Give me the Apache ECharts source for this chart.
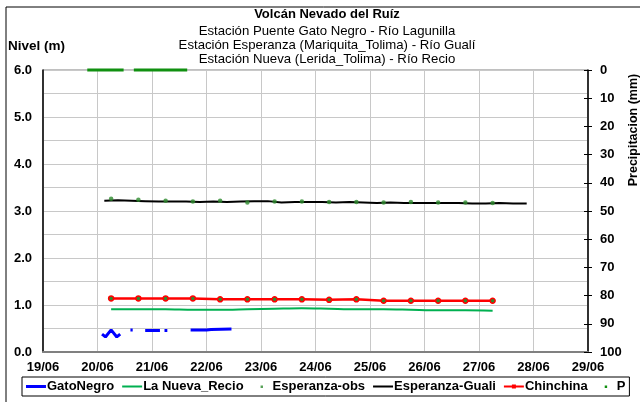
<!DOCTYPE html>
<html>
<head>
<meta charset="utf-8">
<script src="https://cdn.jsdelivr.net/npm/echarts@6/dist/echarts.min.js"></script>
<style>html,body{margin:0;padding:0;background:#fff}#c{width:640px;height:402px}</style>
</head>
<body>
<div id="c"></div>
<script>
// ---- data ----
const titleMain = 'Volcán Nevado del Ruíz';
const titleSubs = ['Estación Puente Gato Negro - Río Lagunilla', 'Estación Esperanza (Mariquita_Tolima) - Río Gualí', 'Estación Nueva (Lerida_Tolima) - Río Recio'];
const xTickLabels = ['19/06','20/06','21/06','22/06','23/06','24/06','25/06','26/06','27/06','28/06','29/06'];
const leftTicks = [0, 1, 2, 3, 4, 5, 6];
const rightTicks = [0, 10, 20, 30, 40, 50, 60, 70, 80, 90, 100];

const gatoTimes = ['20/06 02:00','20/06 03:30','20/06 06:00','20/06 08:30','20/06 10:00','20/06 11:00','20/06 14:30','20/06 15:30','20/06 17:00','20/06 21:00','21/06 00:00','21/06 03:30','21/06 04:30','21/06 05:30','21/06 06:45','21/06 08:00','21/06 17:00','22/06 00:00','22/06 02:00','22/06 11:00'];
const gatoValues = [0.38, 0.32, 0.47, 0.32, 0.38, null, 0.47, 0.47, null, 0.46, 0.46, 0.46, null, 0.46, 0.46, null, 0.47, 0.47, 0.48, 0.49];

const obsTimes = ['20/06 06:00','20/06 18:00','21/06 06:00','21/06 18:00','22/06 06:00','22/06 18:00','23/06 06:00','23/06 18:00','24/06 06:00','24/06 18:00','25/06 06:00','25/06 18:00','26/06 06:00','26/06 18:00','27/06 06:00'];
const recioValues = [0.91, 0.91, 0.91, 0.90, 0.90, 0.91, 0.92, 0.93, 0.92, 0.91, 0.91, 0.90, 0.89, 0.89, 0.88];
const esperanzaObs = [3.26, 3.24, 3.22, 3.20, 3.22, 3.18, 3.20, 3.20, 3.19, 3.19, 3.18, 3.19, 3.18, 3.18, 3.17];
const chinchinaValues = [1.14, 1.14, 1.14, 1.14, 1.12, 1.12, 1.12, 1.12, 1.11, 1.12, 1.09, 1.09, 1.09, 1.09, 1.09];

const gualiTimes = ['20/06 03:00','20/06 09:00','20/06 15:00','20/06 21:00','21/06 03:00','21/06 09:00','21/06 15:00','21/06 21:00','22/06 03:00','22/06 09:00','22/06 15:00','22/06 21:00','23/06 03:00','23/06 09:00','23/06 15:00','23/06 21:00','24/06 03:00','24/06 09:00','24/06 15:00','24/06 21:00','25/06 03:00','25/06 09:00','25/06 15:00','25/06 21:00','26/06 03:00','26/06 09:00','26/06 15:00','26/06 21:00','27/06 03:00','27/06 09:00','27/06 15:00','27/06 21:00'];
const gualiValues = [3.22, 3.23, 3.22, 3.21, 3.20, 3.20, 3.20, 3.19, 3.20, 3.19, 3.20, 3.21, 3.21, 3.18, 3.19, 3.19, 3.19, 3.18, 3.19, 3.18, 3.17, 3.18, 3.17, 3.17, 3.17, 3.17, 3.17, 3.16, 3.16, 3.17, 3.16, 3.16];

const precipTimes = ['19/06 19:30','20/06 03:00','20/06 11:30','20/06 14:00','20/06 16:00','21/06 03:00','21/06 15:30'];
const precipValues = [0, 0, 0, null, 0, 0, 0];

// ---- helpers ----
function toDay(s) {
  const [d, t] = s.split(' ');
  const day = parseInt(d.split('/')[0], 10);
  const [hh, mm] = t.split(':').map(Number);
  return day + hh / 24 + mm / 1440;
}
function pairs(times, vals) { return times.map((t, i) => [toDay(t), vals[i]]); }

const font = 'Arial, "Liberation Sans", sans-serif';
const dotIcon = 'path://M0,0h0.01v0.01h-0.01z M9,3h2.4v2.4h-2.4z M20,8h0.01v0.01h-0.01z';
const lineIcon = 'path://M0,0h0.01v0.01h-0.01z M0,3h20v2h-20z M20,8h0.01v0.01h-0.01z';
const thickLineIcon = 'path://M0,0h0.01v0.01h-0.01z M0,2.5h20v3h-20z M20,8h0.01v0.01h-0.01z';
const lineDotIcon = 'path://M0,0h0.01v0.01h-0.01z M0,3h20v2h-20z M8,2h4v4h-4z M20,8h0.01v0.01h-0.01z';

const chart = echarts.init(document.getElementById('c'), null, {renderer: 'canvas'});
chart.setOption({
  animation: false,
  backgroundColor: '#ffffff',
  textStyle: {fontFamily: font},
  grid: {left: 43, top: 70, right: 52, bottom: 50, show: true, borderColor: '#808080', borderWidth: 1},
  graphic: [
    {type: 'rect', silent: true, z: -10, shape: {x: 6, y: 7, width: 700, height: 500}, style: {fill: 'none', stroke: '#000', lineWidth: 1}},
    {type: 'text', x: 327, y: 14, style: {text: titleMain, font: 'bold 13px ' + font, fill: '#000', textAlign: 'center', textVerticalAlign: 'middle'}},
    {type: 'text', x: 327, y: 31, style: {text: titleSubs[0], font: '13.2px ' + font, fill: '#000', textAlign: 'center', textVerticalAlign: 'middle'}},
    {type: 'text', x: 327, y: 45, style: {text: titleSubs[1], font: '13.2px ' + font, fill: '#000', textAlign: 'center', textVerticalAlign: 'middle'}},
    {type: 'text', x: 327, y: 59, style: {text: titleSubs[2], font: '13.2px ' + font, fill: '#000', textAlign: 'center', textVerticalAlign: 'middle'}},
    {type: 'text', x: 8, y: 46, style: {text: 'Nivel (m)', font: 'bold 13.5px ' + font, fill: '#000', textAlign: 'left', textVerticalAlign: 'middle'}},
    {type: 'text', x: 634, y: 130, rotation: Math.PI / 2, style: {text: 'Precipitacion (mm)', font: 'bold 12.5px ' + font, fill: '#000', textAlign: 'center', textVerticalAlign: 'middle'}}
  ],
  legend: {
    left: 22, top: 377, width: 800,
    orient: 'horizontal',
    borderColor: '#000', borderWidth: 1, padding: [3, 4],
    itemGap: 8, itemWidth: 20, itemHeight: 8,
    textStyle: {fontFamily: font, fontWeight: 'bold', fontSize: 13, color: '#000', padding: [0, 0, 0, -4]},
    data: [
      {name: 'GatoNegro', icon: thickLineIcon},
      {name: 'La Nueva_Recio', icon: lineIcon},
      {name: 'Esperanza-obs', icon: dotIcon},
      {name: 'Esperanza-Guali', icon: lineIcon},
      {name: 'Chinchina', icon: lineDotIcon, itemStyle: {color: '#ff0000', borderWidth: 0}},
      {name: 'P', icon: dotIcon}
    ]
  },
  xAxis: {
    type: 'value', min: 19, max: 29, interval: 1,
    axisLine: {lineStyle: {color: '#808080', width: 2}},
    axisTick: {show: false},
    axisLabel: {margin: 9, fontFamily: font, fontWeight: 'bold', fontSize: 13, color: '#000',
      formatter: v => xTickLabels[Math.round(v) - 19] || ''},
    splitLine: {show: true, lineStyle: {color: '#c8c8c8', width: 1}}
  },
  yAxis: [
    {
      type: 'value', min: 0, max: 6, interval: 0.5, position: 'left',
      axisLine: {show: true, lineStyle: {color: '#000', width: 1.5}},
      axisTick: {show: false},
      axisLabel: {margin: 11, fontFamily: font, fontWeight: 'bold', fontSize: 13, color: '#000',
        formatter: v => leftTicks.indexOf(v) >= 0 ? v.toFixed(1) : ''},
      splitLine: {show: true, lineStyle: {color: '#c8c8c8', width: 1}}
    },
    {
      type: 'value', min: 0, max: 100, interval: 10, inverse: true, position: 'right',
      axisLine: {show: true, lineStyle: {color: '#000', width: 1.5}},
      axisTick: {show: true, length: 4, lineStyle: {color: '#000', width: 1}},
      axisLabel: {margin: 12, fontFamily: font, fontWeight: 'bold', fontSize: 13, color: '#000',
        formatter: v => rightTicks.indexOf(v) >= 0 ? String(v) : ''},
      splitLine: {show: false}
    },
    {
      type: 'value', min: 0, max: 100, interval: 10, inverse: true, position: 'right',
      axisLine: {show: false},
      axisTick: {show: true, inside: true, length: 4, lineStyle: {color: '#000', width: 1}},
      axisLabel: {show: false},
      splitLine: {show: false}
    }
  ],
  series: [
    {name: 'GatoNegro', type: 'line', yAxisIndex: 0, data: pairs(gatoTimes, gatoValues), showSymbol: false, symbol: 'none', connectNulls: false,
      lineStyle: {color: '#0000ff', width: 3}, itemStyle: {color: '#0000ff'}, z: 3},
    {name: 'La Nueva_Recio', type: 'line', yAxisIndex: 0, data: pairs(obsTimes, recioValues), symbol: 'none', smooth: 0.3,
      lineStyle: {color: '#00b050', width: 2}, itemStyle: {color: '#00b050'}, z: 3},
    {name: 'Esperanza-obs', type: 'scatter', yAxisIndex: 0, data: pairs(obsTimes, esperanzaObs), symbol: 'circle', symbolSize: 4.5,
      itemStyle: {color: '#2e8b2e'}, z: 5},
    {name: 'Esperanza-Guali', type: 'line', yAxisIndex: 0, data: pairs(gualiTimes, gualiValues), symbol: 'none',
      lineStyle: {color: '#000', width: 2}, itemStyle: {color: '#000'}, z: 4},
    {name: 'Chinchina', type: 'line', yAxisIndex: 0, data: pairs(obsTimes, chinchinaValues), symbol: 'circle', symbolSize: 5, showSymbol: true,
      lineStyle: {color: '#ff0000', width: 2.5}, itemStyle: {color: '#2e8b2e', borderColor: '#ff0000', borderWidth: 1.5}, z: 4},
    {name: 'P', type: 'line', yAxisIndex: 1, data: pairs(precipTimes, precipValues), symbol: 'none', clip: false, connectNulls: false,
      lineStyle: {color: '#109010', width: 3}, itemStyle: {color: '#109010'}, z: 6}
  ]
});
</script>
</body>
</html>
